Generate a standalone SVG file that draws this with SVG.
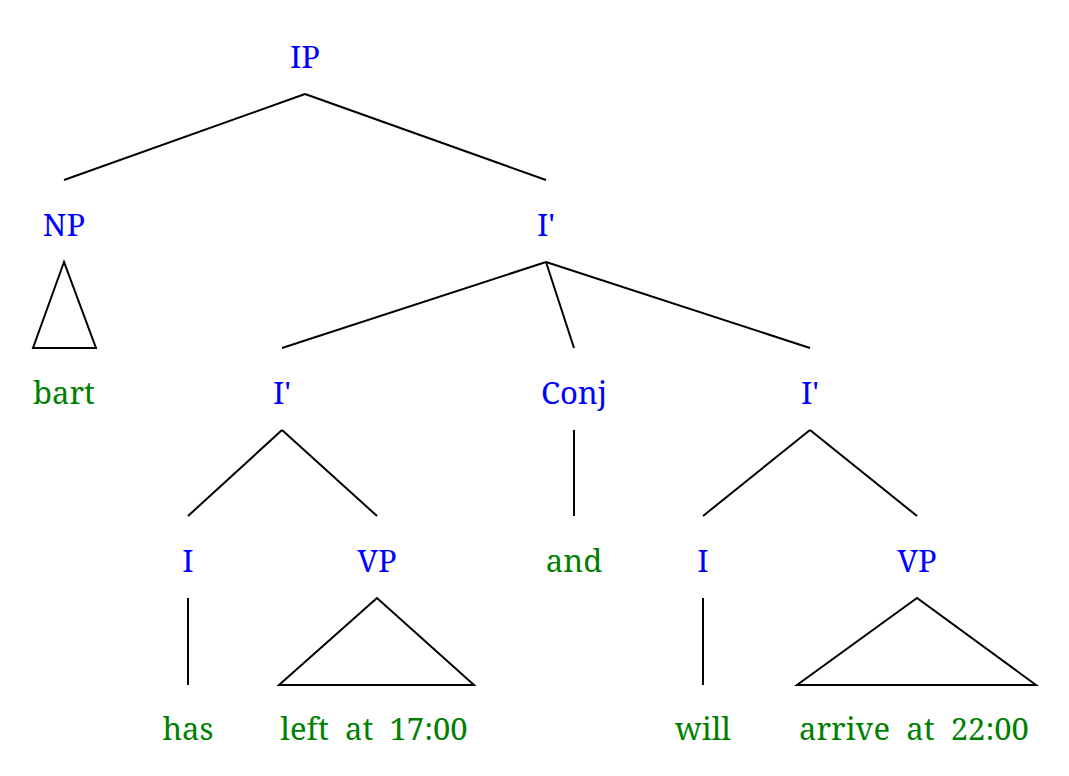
<svg xmlns="http://www.w3.org/2000/svg" width="1069" height="776" viewBox="0 0 1069 776">
<style>
text{font-family:"Noto Serif","DejaVu Serif",serif;font-size:31px;text-anchor:middle;white-space:pre}
.c{fill:#0000ff}
.w{fill:#008000}
line,polygon{stroke:#000;stroke-width:2;fill:none;stroke-linecap:butt}
</style>
<rect width="1069" height="776" fill="#fff"/>
<g id="connectors">
<line x1="305" y1="94" x2="64" y2="180"/>
<line x1="305" y1="94" x2="546" y2="180"/>
<polygon points="64,262 33,348 96,348"/>
<line x1="546" y1="262" x2="282" y2="348"/>
<line x1="546" y1="262" x2="574" y2="348"/>
<line x1="546" y1="262" x2="810" y2="348"/>
<line x1="282" y1="430" x2="188" y2="516"/>
<line x1="282" y1="430" x2="377" y2="516"/>
<line x1="574" y1="430" x2="574" y2="516"/>
<line x1="810" y1="430" x2="703" y2="516"/>
<line x1="810" y1="430" x2="917" y2="516"/>
<line x1="188" y1="598" x2="188" y2="685"/>
<polygon points="377,598 279,685 474,685"/>
<line x1="703" y1="598" x2="703" y2="685"/>
<polygon points="917,598 797,685 1036,685"/>
</g>
<g id="IP"><text class="c" x="305" y="68">IP</text></g>
<g id="NP"><text class="c" x="64" y="236">NP</text></g>
<g id="bart"><text class="w" x="64" y="404">bart</text></g>
<g id="Ibar"><text class="c" x="546" y="236">I'</text></g>
<g id="Ibar-left"><text class="c" x="282" y="404">I'</text></g>
<g id="Conj"><text class="c" x="574" y="404">Conj</text></g>
<g id="Ibar-right"><text class="c" x="810" y="404">I'</text></g>
<g id="I-left"><text class="c" x="188" y="572">I</text></g>
<g id="VP-left"><text class="c" x="377" y="572">VP</text></g>
<g id="and"><text class="w" x="574" y="572">and</text></g>
<g id="I-right"><text class="c" x="703" y="572">I</text></g>
<g id="VP-right"><text class="c" x="917" y="572">VP</text></g>
<g id="has"><text class="w" x="188" y="740">has</text></g>
<g id="left"><text class="w" x="374" y="740" xml:space="preserve">left  at  17:00</text></g>
<g id="will"><text class="w" x="703" y="740">will</text></g>
<g id="arrive"><text class="w" x="914" y="740" xml:space="preserve">arrive  at  22:00</text></g>
</svg>
